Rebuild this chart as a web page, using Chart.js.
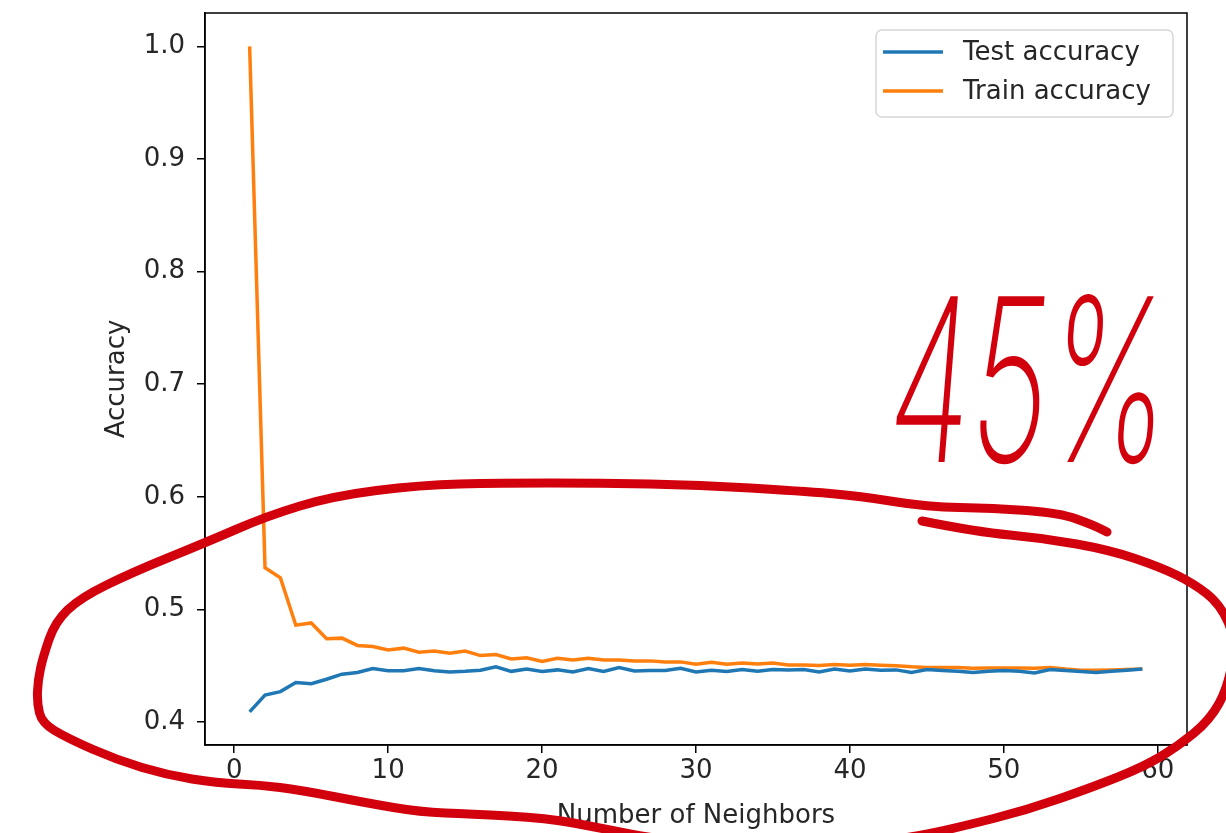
<!DOCTYPE html>
<html>
<head>
<meta charset="utf-8">
<script src="https://cdn.jsdelivr.net/npm/chart.js@4.4.1/dist/chart.umd.min.js"></script>
<style>
  html, body { margin: 0; padding: 0; background: #ffffff; }
  #wrap { width: 1226px; height: 833px; position: relative; }
</style>
</head>
<body>
<div id="wrap"><canvas id="c" width="1226" height="833"></canvas></div>
<script>
// ---- data ----
const neighbors = [1,2,3,4,5,6,7,8,9,10,11,12,13,14,15,16,17,18,19,20,21,22,23,24,25,26,27,28,29,30,31,32,33,34,35,36,37,38,39,40,41,42,43,44,45,46,47,48,49,50,51,52,53,54,55,56,57,58,59];
const testAccuracy = [0.409,0.424,0.427,0.435,0.434,0.438,0.4425,0.444,0.4475,0.4455,0.4455,0.4475,0.4455,0.4445,0.445,0.446,0.449,0.445,0.447,0.4448,0.4463,0.4445,0.4475,0.445,0.4484,0.4454,0.4457,0.4457,0.4478,0.4445,0.446,0.4448,0.4466,0.445,0.4466,0.4463,0.4466,0.4445,0.447,0.4454,0.447,0.446,0.4463,0.444,0.4466,0.4457,0.445,0.444,0.445,0.4457,0.445,0.4436,0.4466,0.4457,0.4448,0.444,0.445,0.446,0.447];
const trainAccuracy = [1.0,0.537,0.528,0.486,0.488,0.474,0.4745,0.468,0.467,0.464,0.4656,0.462,0.463,0.461,0.463,0.459,0.460,0.456,0.457,0.4537,0.4567,0.455,0.4567,0.455,0.455,0.4543,0.4543,0.4534,0.4534,0.4514,0.453,0.4514,0.4525,0.4516,0.4525,0.4507,0.4507,0.4501,0.451,0.4505,0.451,0.4505,0.45,0.449,0.4484,0.4484,0.4484,0.4478,0.448,0.448,0.448,0.4478,0.4484,0.447,0.446,0.446,0.4463,0.4466,0.447];
const seriesNames = ['Test accuracy', 'Train accuracy'];
const xTicks = [0,10,20,30,40,50,60];
const yTicks = [0.4,0.5,0.6,0.7,0.8,0.9,1.0];
const xTitle = 'Number of Neighbors';
const yTitle = 'Accuracy';
const annotationText = '45%';

// ---- styles ----
const FONT = "'DejaVu Sans', sans-serif";
const TXT = '#262626';
const colors = ['#1f77b4', '#ff7f0e'];
const RED = '#d2000c';

const pts = (ys) => neighbors.map((x, i) => ({x: x, y: ys[i]}));

// Frame + custom matplotlib-style legend
const framePlugin = {
  id: 'frame',
  afterDatasetsDraw(chart) {
    const {ctx, chartArea: a} = chart;
    ctx.save();
    ctx.strokeStyle = '#000';
    ctx.lineWidth = 1.5;
    ctx.strokeRect(a.left, a.top, a.right - a.left, a.bottom - a.top);
    // legend
    const bx = a.right - 311, by = a.top + 17, bw = 297, bh = 87, r = 6;
    ctx.beginPath();
    ctx.moveTo(bx + r, by);
    ctx.arcTo(bx + bw, by, bx + bw, by + bh, r);
    ctx.arcTo(bx + bw, by + bh, bx, by + bh, r);
    ctx.arcTo(bx, by + bh, bx, by, r);
    ctx.arcTo(bx, by, bx + bw, by, r);
    ctx.closePath();
    ctx.fillStyle = 'rgba(255,255,255,0.8)';
    ctx.fill();
    ctx.strokeStyle = '#d6d6d6';
    ctx.lineWidth = 1.5;
    ctx.stroke();
    chart.data.datasets.forEach((ds, i) => {
      const y = by + 22 + i * 39;
      ctx.beginPath();
      ctx.moveTo(bx + 7, y);
      ctx.lineTo(bx + 67, y);
      ctx.strokeStyle = ds.borderColor;
      ctx.lineWidth = 3.5;
      ctx.stroke();
      ctx.fillStyle = TXT;
      ctx.font = '26px ' + FONT;
      ctx.textBaseline = 'middle';
      ctx.textAlign = 'left';
      ctx.fillText(ds.label, bx + 87, y + 1);
    });
    ctx.restore();
  }
};

// Hand-drawn red annotation on top of the chart
function smoothPath(ctx, p) {
  ctx.beginPath();
  ctx.moveTo(p[0][0], p[0][1]);
  for (let i = 1; i < p.length - 1; i++) {
    const mx = (p[i][0] + p[i + 1][0]) / 2, my = (p[i][1] + p[i + 1][1]) / 2;
    ctx.quadraticCurveTo(p[i][0], p[i][1], mx, my);
  }
  ctx.lineTo(p[p.length - 1][0], p[p.length - 1][1]);
  ctx.stroke();
}
const scribblePlugin = {
  id: 'scribble',
  afterDraw(chart) {
    const ctx = chart.ctx;
    ctx.save();
    ctx.strokeStyle = RED;
    ctx.lineCap = 'round';
    ctx.lineJoin = 'round';
    ctx.lineWidth = 9;
    const loop = [[922,521],[977,532],[1043,538],[1110,550],[1160,567],[1193,583],[1220,604],[1236,640],[1228,687],[1210,720],[1177,747],[1143,767],[1093,787],[1027,810],[960,827],[900,840],[780,848],[660,840],[600,828],[547,818],[470,814],[420,812],[367,803],[300,790],[260,785],[217,783],[167,775],[117,760],[67,738],[42,723],[37,703],[38,680],[43,657],[55,622],[80,598],[133,572],[207,542],[267,516],[333,496],[420,485],[500,483],[600,483],[700,485],[800,491],[860,496],[927,507],[993,508],[1060,513],[1093,525],[1107,532]];
    smoothPath(ctx, loop);
    // handwritten "45%"
    ctx.fillStyle = RED;
    ctx.font = "200 228px Inter, 'DejaVu Sans', sans-serif";
    ctx.textBaseline = 'alphabetic';
    ctx.textAlign = 'left';
    const w = ctx.measureText(annotationText).width;
    ctx.translate(884, 462);
    ctx.transform(1, 0, -0.08, 1, 0, 0);
    ctx.scale(280 / w, 1);
    ctx.fillText(annotationText, 0, 0);
    ctx.restore();
  }
};

new Chart(document.getElementById('c'), {
  type: 'line',
  data: {
    datasets: [
      { label: seriesNames[0], data: pts(testAccuracy), borderColor: colors[0], backgroundColor: colors[0], borderWidth: 3.5, pointRadius: 0, tension: 0, fill: false },
      { label: seriesNames[1], data: pts(trainAccuracy), borderColor: colors[1], backgroundColor: colors[1], borderWidth: 3.5, pointRadius: 0, tension: 0, fill: false }
    ]
  },
  options: {
    responsive: false,
    animation: false,
    events: [],
    layout: { padding: { left: 0, top: 13, right: 39, bottom: 0 } },
    plugins: { legend: { display: false }, tooltip: { enabled: false } },
    scales: {
      x: {
        type: 'linear',
        min: -1.9, max: 61.9,
        afterBuildTicks: (s) => { s.ticks = xTicks.map(v => ({value: v})); },
        afterFit: (s) => { s.height = 88; s.paddingLeft = 0; s.paddingRight = 0; },
        grid: { display: true, drawOnChartArea: false, drawTicks: true, tickLength: 8, color: '#000', lineWidth: 1.5 },
        border: { display: true, color: '#000', width: 1.5 },
        ticks: { color: TXT, font: { family: FONT, size: 26 }, padding: 3, maxRotation: 0, autoSkip: false, callback: (v) => String(v) },
        title: { display: true, text: xTitle, color: TXT, font: { family: FONT, size: 26 }, padding: { top: 0, bottom: 1 } }
      },
      y: {
        type: 'linear',
        min: 0.3796, max: 1.0296,
        afterBuildTicks: (s) => { s.ticks = yTicks.map(v => ({value: v})); },
        afterFit: (s) => { s.width = 205; s.paddingTop = 0; s.paddingBottom = 0; },
        grid: { display: true, drawOnChartArea: false, drawTicks: true, tickLength: 8, color: '#000', lineWidth: 1.5 },
        border: { display: true, color: '#000', width: 1.5 },
        ticks: { color: TXT, font: { family: FONT, size: 26 }, padding: 12, autoSkip: false, callback: (v) => Number(v).toFixed(1) },
        title: { display: true, text: yTitle, color: TXT, font: { family: FONT, size: 26 }, padding: { top: 102, bottom: 0 } }
      }
    }
  },
  plugins: [framePlugin, scribblePlugin]
});
</script>
</body>
</html>
